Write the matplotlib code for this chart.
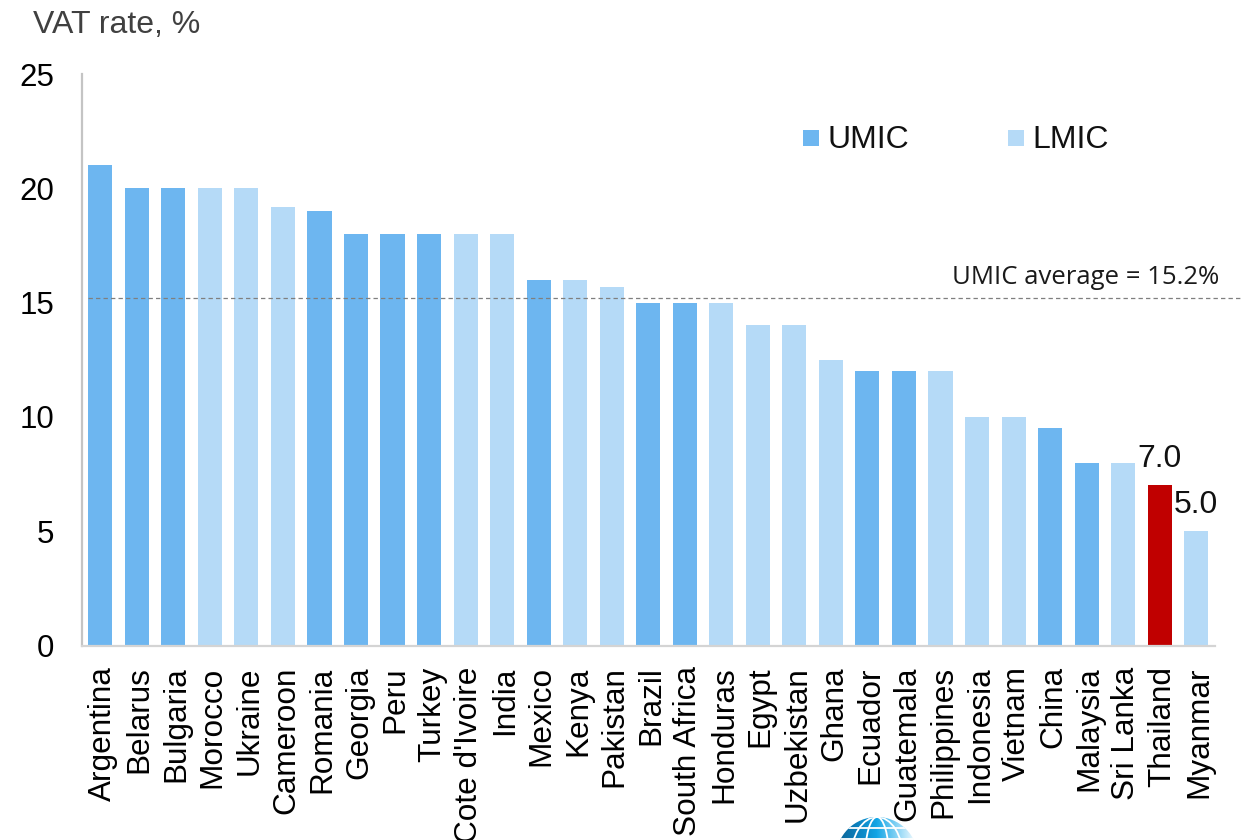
import matplotlib
matplotlib.use("Agg")
import matplotlib.pyplot as plt
import numpy as np
from matplotlib.colors import LinearSegmentedColormap
from matplotlib.lines import Line2D
from matplotlib.patches import Circle, Ellipse
from matplotlib.transforms import ScaledTranslation

plt.rcParams['font.family'] = ['Liberation Sans', 'DejaVu Sans']

countries = ["Argentina", "Belarus", "Bulgaria", "Morocco", "Ukraine", "Cameroon", "Romania",
             "Georgia", "Peru", "Turkey", "Cote d'Ivoire", "India", "Mexico", "Kenya", "Pakistan",
             "Brazil", "South Africa", "Honduras", "Egypt", "Uzbekistan", "Ghana", "Ecuador",
             "Guatemala", "Philippines", "Indonesia", "Vietnam", "China", "Malaysia", "Sri Lanka",
             "Thailand", "Myanmar"]
vat_rates = [21, 20, 20, 20, 20, 19.2, 19, 18, 18, 18, 18, 18, 16, 16, 15.7,
             15, 15, 15, 14, 14, 12.5, 12, 12, 12, 10, 10, 9.5, 8, 8, 7, 5]
groups = ["U", "U", "U", "L", "L", "L", "U", "U", "U", "U", "L", "L", "U", "L", "L",
          "U", "U", "L", "L", "L", "L", "U", "U", "L", "L", "L", "U", "U", "L", "T", "L"]
group_colors = {"U": "#6DB6F0", "L": "#B5DAF7", "T": "#C00000"}
umic_average = 15.2
value_labels = {"Thailand": "7.0", "Myanmar": "5.0"}
y_ticks = [0, 5, 10, 15, 20, 25]

W, H = 1241, 840
fig = plt.figure(figsize=(W / 100, H / 100), dpi=100, facecolor="white")
ax = fig.add_axes([82 / W, 1 - 645.5 / H, (1214.5 - 82) / W, (645.5 - 74) / H])

positions = list(range(len(countries)))
ax.bar(positions, vat_rates, width=0.66, color=[group_colors[g] for g in groups], zorder=2)
ax.set_xlim(-0.5, len(countries) - 0.5)
ax.set_ylim(0, 25)

for side in ("top", "right"):
    ax.spines[side].set_visible(False)
ax.spines["left"].set_color("#C4C4C4")
ax.spines["left"].set_linewidth(1.6)
ax.spines["bottom"].set_color("#D4D4D4")
ax.spines["bottom"].set_linewidth(1.6)

ax.set_yticks(y_ticks)
ax.tick_params(axis="y", length=0, pad=20, labelsize=22.5, labelcolor="black")
ax.set_xticks(positions)
ax.set_xticklabels(countries, rotation=90, fontsize=22.7, color="black")
ax.tick_params(axis="x", length=0, pad=15)
nudge = ScaledTranslation(3 / 100, 0, fig.dpi_scale_trans)
for lbl in ax.get_xticklabels():
    lbl.set_transform(lbl.get_transform() + nudge)

# Average reference line runs past the bars to the figure edge
avg_y = ax.transData.transform((0, umic_average))[1] / H
ax.add_line(Line2D([88 / W, 1], [avg_y, avg_y], transform=fig.transFigure, color="#7F7F7F",
                   lw=0.9, ls=(0, (3.5, 2.5)), zorder=3, clip_on=False))
fig.text(1219 / W, 1 - 277.5 / H, "UMIC average = 15.2%", ha="right", va="center",
         fontsize=18.5, family=["Open Sans", "DejaVu Sans"], color="#1A1A1A")

for name, text in value_labels.items():
    i = countries.index(name)
    ax.text(i, vat_rates[i] + 0.5, text, ha="center", va="bottom", fontsize=23, color="#111111")

fig.text(33 / W, 1 - 25 / H, "VAT rate, %", ha="left", va="center", fontsize=23, color="#404040")

# Legend placed by hand inside the plot area
for x, label, g in [(811, "UMIC", "U"), (1016, "LMIC", "L")]:
    fig.patches.append(plt.Rectangle(((x - 8) / W, 1 - 146 / H), 16 / W, 16 / H, transform=fig.transFigure,
                                     facecolor=group_colors[g], edgecolor="none"))
    fig.text((x + 16) / W, 1 - 140 / H, label, ha="left", va="center", fontsize=23, color="#111111")

# Institution's globe emblem, cut off by the lower edge
logo = fig.add_axes([0, 0, 1, 1], facecolor="none", zorder=5)
logo.axis("off")
cx, cy, r = 877, 858, 41
shade = LinearSegmentedColormap.from_list("globe", ["#0A5F90", "#0C7FBC", "#12A6E6", "#8AD4F5", "#FFFFFF"])
ramp = np.linspace(0, 1, 128)[None, :]
img = logo.imshow(ramp, cmap=shade, extent=(cx - r, cx + r, cy + r, cy - r), aspect="auto", zorder=1)
logo.set_xlim(0, W)
logo.set_ylim(H, 0)
clip = Circle((cx, cy), r, transform=logo.transData)
img.set_clip_path(clip)
for w in (24, 52):
    e = Ellipse((cx, cy), w, 2 * r, facecolor="none", edgecolor="white", lw=1.3, zorder=2)
    logo.add_patch(e)
    e.set_clip_path(clip)
for dy in (-30, -19):
    line = logo.plot([cx - r, cx + r], [cy + dy, cy + dy], color="white", lw=1.3, zorder=2)[0]
    line.set_clip_path(clip)

fig.savefig("out.png", dpi=100)
